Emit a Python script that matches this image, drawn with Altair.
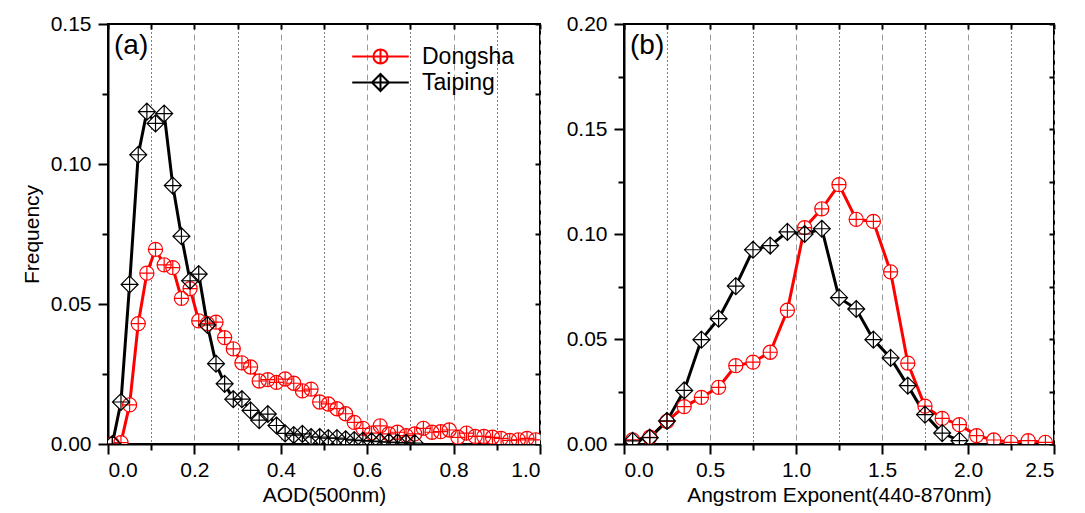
import altair as alt
import pandas as pd

# ---------------- data ----------------
aod_x = [0.01, 0.03, 0.05, 0.07, 0.09, 0.11, 0.13, 0.15, 0.17, 0.19,
         0.21, 0.23, 0.25, 0.27, 0.29, 0.31, 0.33, 0.35, 0.37, 0.39,
         0.41, 0.43, 0.45, 0.47, 0.49, 0.51, 0.53, 0.55, 0.57, 0.59,
         0.61, 0.63, 0.65, 0.67, 0.69, 0.71, 0.73, 0.75, 0.77, 0.79,
         0.81, 0.83, 0.85, 0.87, 0.89, 0.91, 0.93, 0.95, 0.97, 0.99]
dongsha_aod = [0.0, 0.0005, 0.014, 0.043, 0.061, 0.0695, 0.064, 0.063, 0.052, 0.0555,
               0.044, 0.043, 0.0435, 0.038, 0.034, 0.029, 0.0275, 0.0225, 0.023, 0.022,
               0.0232, 0.0217, 0.019, 0.0196, 0.015, 0.0143, 0.0126, 0.0108, 0.0077, 0.0056,
               0.0039, 0.0065, 0.0036, 0.0042, 0.003, 0.0036, 0.0056, 0.0042, 0.0044, 0.005,
               0.0024, 0.0039, 0.0027, 0.0027, 0.0024, 0.002, 0.0013, 0.0015, 0.002, 0.0015]
taiping_aod_x = [0.01, 0.03, 0.05, 0.07, 0.09, 0.11, 0.13, 0.15, 0.17, 0.19,
                 0.21, 0.23, 0.25, 0.27, 0.29, 0.31, 0.33, 0.35, 0.37, 0.39,
                 0.41, 0.43, 0.45, 0.47, 0.49, 0.51, 0.53, 0.55, 0.57, 0.59,
                 0.61, 0.63, 0.65, 0.67, 0.69, 0.71]
taiping_aod = [0.0, 0.015, 0.057, 0.1033, 0.1187, 0.1145, 0.118, 0.0923, 0.0742, 0.0583,
               0.0607, 0.0425, 0.0287, 0.0215, 0.016, 0.016, 0.012, 0.0085, 0.0107, 0.0066,
               0.0038, 0.0032, 0.0036, 0.0025, 0.0025, 0.0021, 0.0021, 0.0017, 0.0014, 0.0012,
               0.001, 0.0008, 0.0007, 0.0005, 0.0004, 0.0003]

ae_x = [0.05, 0.15, 0.25, 0.35, 0.45, 0.55, 0.65, 0.75, 0.85, 0.95,
        1.05, 1.15, 1.25, 1.35, 1.45, 1.55, 1.65, 1.75, 1.85, 1.95,
        2.05, 2.15, 2.25, 2.35, 2.45]
dongsha_ae = [0.002, 0.0032, 0.0108, 0.0178, 0.0222, 0.027, 0.0373, 0.039, 0.0437, 0.0637,
              0.103, 0.112, 0.1235, 0.107, 0.106, 0.082, 0.0385, 0.018, 0.0122, 0.0092,
              0.004, 0.0019, 0.0008, 0.0016, 0.0008]
taiping_ae_x = [0.05, 0.15, 0.25, 0.35, 0.45, 0.55, 0.65, 0.75, 0.85, 0.95,
                1.05, 1.15, 1.25, 1.35, 1.45, 1.55, 1.65, 1.75, 1.85, 1.95]
taiping_ae = [0.0015, 0.003, 0.011, 0.0255, 0.0497, 0.0597, 0.0752, 0.0925, 0.0945, 0.101,
              0.1, 0.1025, 0.0697, 0.0643, 0.0497, 0.041, 0.0278, 0.014, 0.0052, 0.0016]

series_names = ["Dongsha", "Taiping"]

# ---------------- style ----------------
FONT = "Liberation Sans"
RED = "#ff0000"
BLACK = "#000000"
CIRCLE = "M-1,0A1,1 0 1,1 1,0A1,1 0 1,1 -1,0Z M-1,0L1,0 M0,-1L0,1"
DIAMOND = "M0,-1.2L1.2,0L0,1.2L-1.2,0Z M-1.2,0L1.2,0 M0,-1.2L0,1.2"
LEG_CIRCLE = "M-4,0L-1,0 M1,0L4,0 " + CIRCLE
LEG_DIAMOND = "M-4,0L-1.2,0 M1.2,0L4,0 " + DIAMOND
MSIZE = 200


def make_panel(xr, yr, xb, yb, xdom, ydom, xmaj, xmin_, ymaj, ymin_, xtitle, ytitle, tag, W, H, legend):
    red = pd.DataFrame({"x": xr, "y": yr})
    blk = pd.DataFrame({"x": xb, "y": yb})
    xs = alt.Scale(domain=xdom, nice=False, zero=False)
    ys = alt.Scale(domain=ydom, nice=False, zero=False)

    ax_x_major = alt.Axis(orient="bottom", values=xmaj, format=".1f", title=xtitle,
                          tickSize=10, tickWidth=2, domainWidth=2, grid=True,
                          gridColor="#9a9a9a", gridDash=[6, 4], gridWidth=1,
                          labelFontSize=21, titleFontSize=21, labelPadding=5, titlePadding=4)
    ax_x_minor = alt.Axis(orient="bottom", values=xmin_, labels=False, title=None,
                          tickSize=6, tickWidth=2, domain=False, grid=True,
                          gridColor="#000000", gridDash=[1, 3], gridWidth=1)
    ax_x_top = alt.Axis(orient="bottom", offset=-H, values=sorted(xmaj + xmin_), labels=False,
                        title=None, tickSize=5, tickWidth=2, domain=False, grid=False)
    ax_y_major = alt.Axis(orient="left", values=ymaj, format=".2f", title=ytitle,
                          tickSize=10, tickWidth=2, domainWidth=2, grid=False,
                          labelFontSize=21, titleFontSize=21, labelPadding=7, titlePadding=8)
    ax_y_minor = alt.Axis(orient="left", values=ymin_, labels=False, title=None,
                          tickSize=6, tickWidth=2, domain=False, grid=False)
    ax_y_right = alt.Axis(orient="left", offset=-W, values=sorted(ymaj + ymin_), labels=False,
                          title=None, tickSize=5, tickWidth=2, domain=False, grid=False)

    l_red = alt.Chart(red).mark_line(color=RED, strokeWidth=3, clip=True).encode(
        x=alt.X("x:Q", scale=xs, axis=ax_x_major),
        y=alt.Y("y:Q", scale=ys, axis=ax_y_major))
    l_blk = alt.Chart(blk).mark_line(color=BLACK, strokeWidth=3, clip=True).encode(
        x=alt.X("x:Q", scale=xs, axis=ax_x_minor),
        y=alt.Y("y:Q", scale=ys, axis=ax_y_minor))
    f_red = alt.Chart(red).mark_point(shape=CIRCLE, size=MSIZE, filled=True, color="white",
                                      opacity=1, clip=True).encode(
        x=alt.X("x:Q", scale=xs, axis=ax_x_top),
        y=alt.Y("y:Q", scale=ys, axis=ax_y_right))
    f_blk = alt.Chart(blk).mark_point(shape=DIAMOND, size=MSIZE, filled=True, color="white",
                                      opacity=1, clip=True).encode(
        x=alt.X("x:Q", scale=xs, axis=None),
        y=alt.Y("y:Q", scale=ys, axis=None))
    m_red = alt.Chart(red).mark_point(shape=CIRCLE, size=MSIZE, filled=False, color=RED,
                                      strokeWidth=1.2, opacity=1, clip=True).encode(
        x=alt.X("x:Q", scale=xs, axis=None),
        y=alt.Y("y:Q", scale=ys, axis=None))
    m_blk = alt.Chart(blk).mark_point(shape=DIAMOND, size=MSIZE, filled=False, color=BLACK,
                                      strokeWidth=1.2, opacity=1, clip=True).encode(
        x=alt.X("x:Q", scale=xs, axis=None),
        y=alt.Y("y:Q", scale=ys, axis=None))
    txt = alt.Chart(pd.DataFrame({"t": [tag]})).mark_text(
        font=FONT, fontSize=28, align="left", baseline="top", color="black").encode(
        x=alt.value(6), y=alt.value(8), text="t:N")

    layers = [l_red, l_blk, f_red, f_blk, m_red, m_blk, txt]
    if legend:
        leg = alt.Legend(orient="none", legendX=261, legendY=21, title=None,
                         labelFontSize=23, labelFont=FONT, labelColor="black",
                         symbolSize=MSIZE, symbolStrokeWidth=2, labelOffset=30,
                         padding=0, rowPadding=1)
        lg = alt.Chart(pd.DataFrame({"series": series_names})).transform_filter("false").mark_point(
            filled=False, opacity=1, strokeWidth=2).encode(
            color=alt.Color("series:N", scale=alt.Scale(domain=series_names, range=[RED, BLACK]), legend=leg),
            shape=alt.Shape("series:N", scale=alt.Scale(domain=series_names, range=[LEG_CIRCLE, LEG_DIAMOND]), legend=leg))
        layers.append(lg)
    return alt.layer(*layers).resolve_axis(x="independent", y="independent").properties(width=W, height=H)


pa = make_panel(aod_x, dongsha_aod, taiping_aod_x, taiping_aod, [0, 1], [0, 0.15],
                [0.0, 0.2, 0.4, 0.6, 0.8, 1.0], [0.1, 0.3, 0.5, 0.7, 0.9],
                [0.0, 0.05, 0.10, 0.15], [0.025, 0.075, 0.125],
                "AOD(500nm)", "Frequency", "(a)", 432, 420, True)
pb = make_panel(ae_x, dongsha_ae, taiping_ae_x, taiping_ae, [0, 2.5], [0, 0.2],
                [0.0, 0.5, 1.0, 1.5, 2.0, 2.5], [0.25, 0.75, 1.25, 1.75, 2.25],
                [0.0, 0.05, 0.10, 0.15, 0.20], [0.025, 0.075, 0.125, 0.175],
                "Angstrom Exponent(440-870nm)", None, "(b)", 430, 420, False)

chart = alt.hconcat(pa, pb, spacing=23).properties(
    padding={"left": 12, "top": 4, "right": 0, "bottom": 0}
).configure(font=FONT).configure_view(stroke="black", strokeWidth=2).configure_axis(
    labelColor="black", titleColor="black", domainColor="black", tickColor="black",
    labelFont=FONT, titleFont=FONT, titleFontWeight="normal")

chart.save("out.html", embed_options={"renderer": "svg", "actions": False})
